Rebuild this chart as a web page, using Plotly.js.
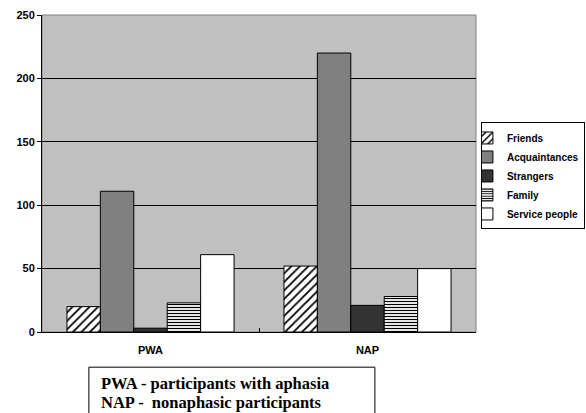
<!DOCTYPE html>
<html>
<head>
<meta charset="utf-8">
<script src="https://cdn.plot.ly/plotly-3.0.1.min.js"></script>
<style>html,body{margin:0;padding:0;background:#fff;}#chart{width:586px;height:413px;}</style>
</head>
<body>
<div id="chart"></div>
<script>
var groups = ["PWA", "NAP"];
var seriesNames = ["Friends", "Acquaintances", "Strangers", "Family", "Service people"];
var friends = [20, 52];
var acquaintances = [111, 220];
var strangers = [3, 21];
var family = [23, 28];
var servicePeople = [61, 50];
var yTicks = [0, 50, 100, 150, 200, 250];
var noteLines = ["PWA - participants with aphasia", "NAP -  nonaphasic participants"];

var values = [friends, acquaintances, strangers, family, servicePeople];
var styles = [
  {color: "#ffffff", pattern: {shape: "/", fgcolor: "#000000", bgcolor: "#ffffff", size: 6, solidity: 0.3, fillmode: "replace"}},
  {color: "#808080"},
  {color: "#333333"},
  {color: "#ffffff", pattern: {shape: "-", fgcolor: "#000000", bgcolor: "#ffffff", size: 3, solidity: 0.4, fillmode: "replace"}},
  {color: "#ffffff"}
];

var traces = seriesNames.map(function (n, i) {
  var m = {color: styles[i].color, line: {color: "#000000", width: 1}};
  if (styles[i].pattern) m.pattern = styles[i].pattern;
  return {type: "bar", name: n, x: groups, y: values[i], marker: m};
});

var layout = {
  width: 586, height: 413,
  margin: {l: 42, r: 110, t: 15, b: 81, autoexpand: false},
  paper_bgcolor: "#ffffff",
  plot_bgcolor: "#c0c0c0",
  barmode: "group",
  bargap: 0.23,
  bargroupgap: 0,
  showlegend: true,
  font: {family: "Liberation Sans, Arial, sans-serif", color: "#000000"},
  xaxis: {
    type: "category",
    showline: true, linecolor: "#000000", linewidth: 1,
    ticks: "inside", tickson: "boundaries", ticklen: 4, tickcolor: "#000000",
    tickfont: {size: 11, family: "Liberation Sans, Arial, sans-serif", weight: "bold"},
    ticklabelstandoff: 8,
    showgrid: false
  },
  yaxis: {
    range: [0, 250], tickvals: yTicks,
    showline: true, linecolor: "#000000", linewidth: 1,
    ticks: "outside", ticklen: 4, tickcolor: "#000000",
    tickfont: {size: 11, family: "Liberation Sans, Arial, sans-serif", weight: "bold"},
    showgrid: true, gridcolor: "#000000", gridwidth: 1,
    zeroline: false
  },
  legend: {
    x: 1.251, xanchor: "right", y: 0.661, yanchor: "top",
    bordercolor: "#000000", borderwidth: 1, bgcolor: "#ffffff",
    font: {size: 10, family: "Liberation Sans, Arial, sans-serif", weight: "bold"},
    tracegroupgap: 0, itemwidth: 30, indentation: -15
  },
  shapes: [
    {type: "rect", xref: "paper", yref: "paper", x0: 0, x1: 1, y0: 0, y1: 1,
     line: {color: "#808080", width: 1}, fillcolor: "rgba(0,0,0,0)", layer: "below"},
    {type: "rect", xref: "paper", yref: "paper", x0: 0.108, x1: 0.767, y0: -0.111, y1: -0.4,
     line: {color: "#000000", width: 1}, fillcolor: "#ffffff"}
  ],
  annotations: noteLines.map(function (t, i) {
    return {text: t, xref: "paper", yref: "paper", x: 0.131, xanchor: "left",
      y: -0.164 - i * 0.058, yanchor: "middle", showarrow: false,
      font: {family: "Liberation Serif, Times New Roman, serif", size: 16.5, weight: "bold", color: "#000000"}};
  })
};

Plotly.newPlot("chart", traces, layout, {displayModeBar: false, staticPlot: true});
</script>
</body>
</html>
